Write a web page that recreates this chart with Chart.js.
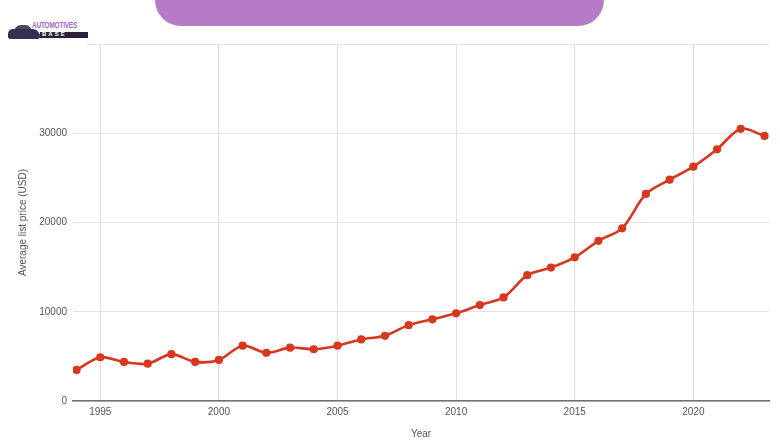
<!DOCTYPE html>
<html>
<head>
<meta charset="utf-8">
<script src="https://cdn.jsdelivr.net/npm/chart.js@4.4.1/dist/chart.umd.min.js"></script>
<style>
  body { margin: 0; background: #fff; }
  #wrap { position: relative; width: 780px; height: 440px; overflow: hidden; font-family: "Liberation Sans", Arial, sans-serif; }
  #chart { position: absolute; left: 0; top: 0; }
  .banner { position: absolute; left: 155px; top: 0; width: 449px; height: 26px; background: #b57bc6; border-radius: 0 0 26px 26px; }
  .logo { position: absolute; left: 0; top: 0; width: 87px; height: 46px; background: #fff; }
  .car { position: absolute; left: 8px; top: 29px; width: 32px; height: 10px; background: #34304f; border-radius: 6px 9px 3px 3px; }
  .cab { position: absolute; left: 14px; top: 25px; width: 18px; height: 7px; background: #4a4668; border-radius: 9px 9px 0 0; }
  .auto { position: absolute; left: 32px; top: 20px; font: bold 9px "Liberation Sans Narrow", "Liberation Sans", sans-serif; color: #a764cf; transform: scaleX(0.72); transform-origin: left; letter-spacing: -0.3px; }
  .bar { position: absolute; left: 40px; top: 32px; width: 48px; height: 6px; background: #2b2038; }
  .base { position: absolute; left: 42px; top: 31px; font: bold 6px "Liberation Sans", sans-serif; color: #fff; letter-spacing: 2px; }
</style>
</head>
<body>
<div id="wrap">
  <canvas id="chart" width="780" height="440"></canvas>
  <div class="banner"></div>
  <div class="logo">
    <div class="cab"></div>
    <div class="car"></div>
    <div class="auto">AUTOMOTIVES</div>
    <div class="bar"></div>
    <div class="base">BASE</div>
  </div>
</div>
<script>
var years = [1994, 1995, 1996, 1997, 1998, 1999, 2000, 2001, 2002, 2003,
             2004, 2005, 2006, 2007, 2008, 2009, 2010, 2011, 2012, 2013,
             2014, 2015, 2016, 2017, 2018, 2019, 2020, 2021, 2022, 2023];
var prices = [3480, 4900, 4380, 4180, 5250, 4380, 4600, 6200, 5400, 5980,
              5800, 6200, 6900, 7300, 8500, 9150, 9820, 10750, 11600, 14100,
              14950, 16100, 17950, 19350, 23200, 24800, 26250, 28200, 30500, 29700];
var xTicks = [1995, 2000, 2005, 2010, 2015, 2020];
var yTicks = [0, 10000, 20000, 30000, 40000];

var red = '#d8371f';
var tickFont = { family: '"Liberation Sans", Arial, sans-serif', size: 10 };

new Chart(document.getElementById('chart'), {
  type: 'line',
  data: {
    datasets: [{
      label: 'Average list price (USD)',
      data: years.map(function (y, i) { return { x: y, y: prices[i] }; }),
      borderColor: red,
      backgroundColor: red,
      borderWidth: 2.6,
      pointRadius: 2.8,
      pointHoverRadius: 3,
      tension: 0.3
    }]
  },
  options: {
    responsive: false,
    animation: false,
    layout: { padding: { left: 17, top: 44, right: 11, bottom: 0 } },
    plugins: { legend: { display: false }, tooltip: { enabled: false } },
    scales: {
      x: {
        type: 'linear',
        min: 1993.85,
        max: 2023.19,
        afterFit: function (s) { s.height = 39; },
        afterBuildTicks: function (s) { s.ticks = xTicks.map(function (v) { return { value: v }; }); },
        grid: { color: '#dedede', drawTicks: false },
        border: { color: '#707070', width: 1.5 },
        ticks: { padding: 5, color: '#555', font: tickFont, maxRotation: 0, callback: function (v) { return String(v); } },
        title: { display: true, text: 'Year', color: '#555', font: tickFont, padding: 0 }
      },
      y: {
        min: 0,
        max: 40000,
        afterFit: function (s) { s.width = 56; },
        afterBuildTicks: function (s) { s.ticks = yTicks.map(function (v) { return { value: v }; }); },
        grid: { color: '#e3e3e3', drawTicks: false },
        border: { display: false },
        ticks: { padding: 6, color: '#555', font: tickFont, callback: function (v) { return v === 40000 ? '' : String(v); } },
        title: { display: true, text: 'Average list price (USD)', color: '#555', font: tickFont, padding: 0 }
      }
    }
  }
});
</script>
</body>
</html>
